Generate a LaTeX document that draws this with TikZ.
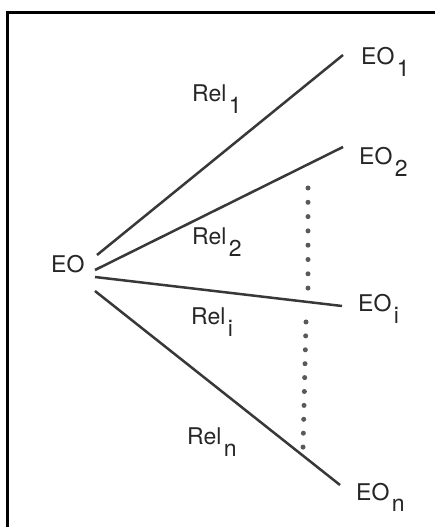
\documentclass[tikz,border=0pt]{standalone}
\usepackage{fontspec}
\setmainfont{TeX Gyre Heros}
\newcommand\lowsub[1]{\hspace{2.5pt}\raisebox{-12pt}{#1}}
\begin{document}
\begin{tikzpicture}[x=1pt,y=1pt,
  lbl/.style={anchor=base west,inner sep=0pt,text=black!85,font=\fontsize{23}{25}\selectfont},
  rel/.style={draw=black!78,line width=2.5pt},
  dotmark/.style={circle,fill=black!65,inner sep=0pt,minimum size=5pt}]
\useasboundingbox (0,0) rectangle (434,527);
\fill[white] (0,0) rectangle (434,527);
\draw[line width=3pt] (7.5,-5) -- (7.5,514.5) -- (440,514.5);
% end points
\coordinate (s1) at (97,272);
\coordinate (e1) at (343,472);
\coordinate (s2) at (95,257);
\coordinate (e2) at (343,380);
\coordinate (si) at (95,250);
\coordinate (ei) at (342,221);
\coordinate (sn) at (95,236);
\coordinate (en) at (340,42);
% labels
\node[lbl] (eo) at (51,254) {EO};
\node[lbl] (eo1) at (361,462) {EO\lowsub{1}};
\node[lbl] (eo2) at (359,362) {EO\lowsub{2}};
\node[lbl] (eoi) at (358,215) {EO\lowsub{i}};
\node[lbl] (eon) at (356,27) {EO\lowsub{n}};
\node[lbl] (rel1) at (192,425) {Rel\lowsub{1}};
\node[lbl] (rel2) at (192,282) {Rel\lowsub{2}};
\node[lbl] (reli) at (191,202) {Rel\lowsub{i}};
\node[lbl] (reln) at (187,82) {Rel\lowsub{n}};
% connectors
\draw[rel] (s1) -- (e1);
\draw[rel] (s2) -- (e2);
\draw[rel] (si) -- (ei);
\draw[rel] (sn) -- (en);
% dots
\foreach \k in {0,...,7} \node[dotmark] at (308,339-14.3*\k) {};
\foreach \k in {0,...,9} \node[dotmark] at (306-0.33*\k,205-13.9*\k) {};
\end{tikzpicture}
\end{document}
